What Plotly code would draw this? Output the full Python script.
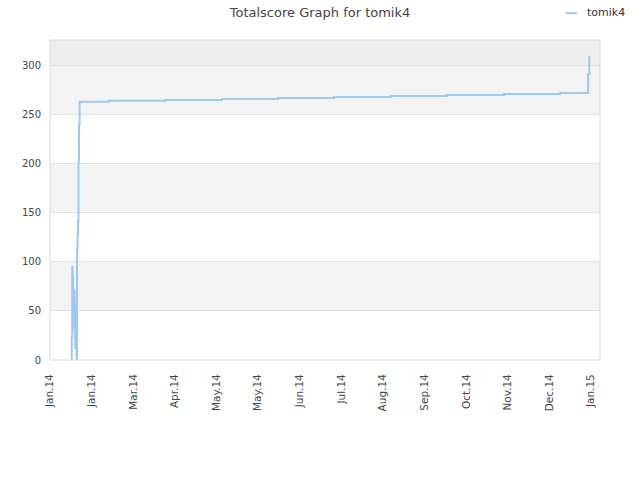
import plotly.graph_objects as go

# ---- data ----
dates = [
    "2014-01-16 12:00", "2014-01-16 15:36", "2014-01-17 00:15", "2014-01-17 05:20",
    "2014-01-17 10:30", "2014-01-17 15:40", "2014-01-17 20:50", "2014-01-18 02:00",
    "2014-01-18 07:15", "2014-01-18 12:30", "2014-01-18 17:40", "2014-01-18 22:50",
    "2014-01-19 04:00", "2014-01-19 09:10", "2014-01-19 14:25", "2014-01-19 19:35",
    "2014-01-20 00:45", "2014-01-20 06:00", "2014-01-20 11:10", "2014-01-20 19:50",
    "2014-01-21 04:30", "2014-01-21 13:10", "2014-01-21 21:50", "2014-01-22 08:10",
    "2014-01-22 15:10",
    "2014-02-12 12:00", "2014-03-24 22:00", "2014-05-05 00:00", "2014-06-14 10:00",
    "2014-07-24 19:00", "2014-09-03 21:00", "2014-10-14 05:00", "2014-11-24 07:00",
    "2015-01-03 17:00", "2015-01-23 22:00", "2015-01-24 19:00",
]
scores = [
    0, 23, 95, 30,
    85, 40, 60, 35,
    58, 70, 40, 55,
    12, 50, 38, 57,
    45, 0, 112, 127,
    141, 202, 240, 263,
    263,
    264, 265, 266, 267,
    268, 269, 270, 271,
    272, 291, 310,
]

tick_dates = ["2014-01-01", "2014-01-31", "2014-03-02", "2014-04-01", "2014-05-01",
              "2014-05-31", "2014-06-30", "2014-07-30", "2014-08-29", "2014-09-28",
              "2014-10-28", "2014-11-27", "2014-12-27", "2015-01-26"]
tick_labels = ["Jan.14", "Jan.14", "Mar.14", "Apr.14", "May.14", "May.14", "Jun.14",
               "Jul.14", "Aug.14", "Sep.14", "Oct.14", "Nov.14", "Dec.14", "Jan.15"]

series_name = "tomik4"
line_color = "#9cc9f4"
y_max = 326
band_edges = [(50, 100), (150, 200), (250, 300)]

fig = go.Figure()
fig.add_trace(go.Scatter(
    x=dates, y=scores, mode="lines", name=series_name, showlegend=False,
    line=dict(color=line_color, width=2, shape="hv"),
))

shapes = []
for lo, hi in band_edges:
    shapes.append(dict(type="rect", xref="paper", yref="y", x0=0, x1=1, y0=lo, y1=hi,
                       fillcolor="#f3f3f3", line=dict(width=0), layer="below"))
shapes.append(dict(type="rect", xref="paper", yref="y", x0=0, x1=1, y0=300, y1=y_max,
                   fillcolor="#ededed", line=dict(width=0), layer="below"))
shapes.append(dict(type="rect", xref="paper", yref="paper", x0=0, x1=1, y0=0, y1=1,
                   fillcolor="rgba(0,0,0,0)", line=dict(color="#d9d9d9", width=1), layer="above"))
# legend marker
shapes.append(dict(type="line", xref="paper", yref="paper", x0=0.938, x1=0.958,
                   y0=1.084, y1=1.084, line=dict(color=line_color, width=2)))

fig.update_layout(
    width=640, height=480,
    margin=dict(l=50, r=40, t=40, b=120, autoexpand=False),
    paper_bgcolor="white", plot_bgcolor="white",
    font=dict(family="DejaVu Sans", size=10, color="#444"),
    title=dict(text="Totalscore Graph for tomik4", x=0.5, xanchor="center",
               y=0.975, yanchor="middle", yref="container",
               font=dict(size=13, color="#444")),
    showlegend=False,
    shapes=shapes,
    annotations=[dict(text=series_name, xref="paper", yref="paper", x=0.972, y=1.0875,
                      xanchor="left", yanchor="middle", showarrow=False,
                      font=dict(size=11, color="#333"))],
    xaxis=dict(type="date", range=["2014-01-01", "2015-02-01 12:00"],
               tickmode="array", tickvals=tick_dates, ticktext=tick_labels,
               tickangle=-90, showgrid=False, zeroline=False, showline=False,
               ticks="outside", ticklen=9, tickcolor="rgba(0,0,0,0)",
               tickfont=dict(size=10.5, color="#444")),
    yaxis=dict(range=[0, y_max], tickmode="array", tickvals=[0, 50, 100, 150, 200, 250, 300],
               showgrid=True, gridcolor="#e0e0e0", gridwidth=1, zeroline=False,
               showline=False, ticks="outside", ticklen=6, tickcolor="rgba(0,0,0,0)",
               tickfont=dict(size=10, color="#444")),
)

fig.write_html("out.html", config={"displayModeBar": False},
               post_script="document.body.style.margin='0px';")
